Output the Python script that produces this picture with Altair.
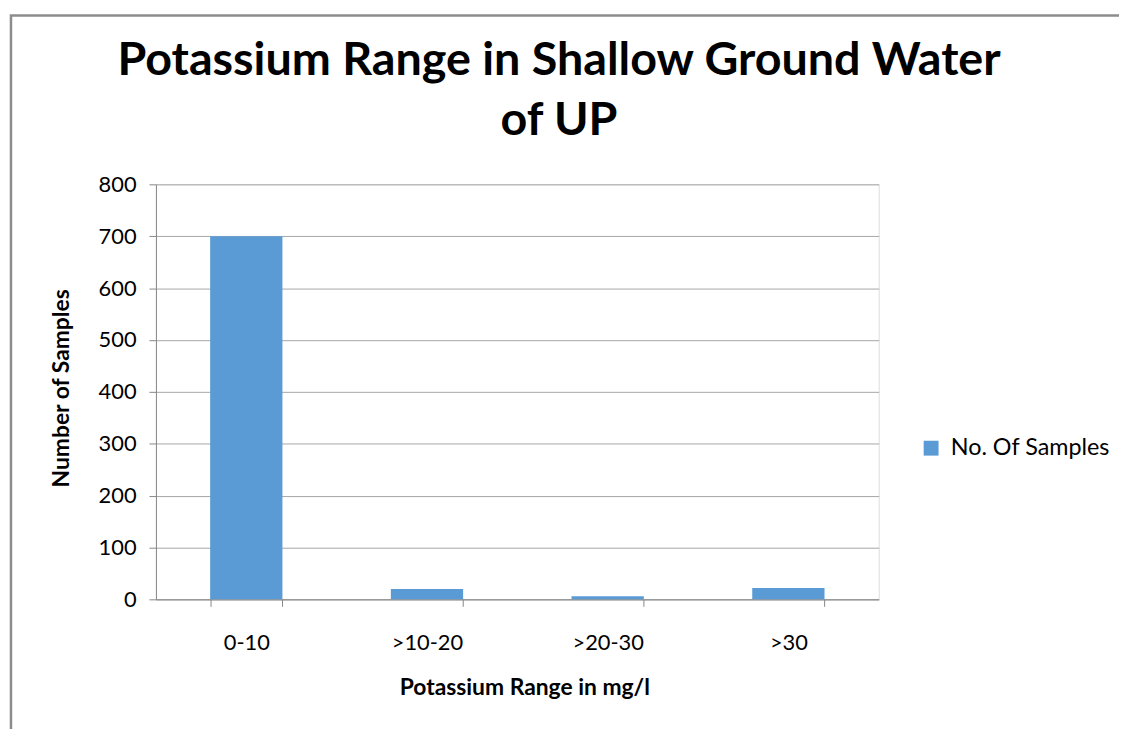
import altair as alt
import pandas as pd

categories = ["0-10", ">10-20", ">20-30", ">30"]
samples = [700, 20, 6, 22]
series_name = "No. Of Samples"
y_ticks = [0, 100, 200, 300, 400, 500, 600, 700, 800]

df = pd.DataFrame({"range": categories, "count": samples, "series": [series_name] * len(categories)})

FONT = "Lato"
W, H = 728, 418
PAD_L, PAD_T = 149, 175

bars = alt.Chart(df).mark_bar(color="#5B9BD5").encode(
    x=alt.X("range:N", sort=categories,
            scale=alt.Scale(paddingInner=0.6, paddingOuter=0.3),
            axis=alt.Axis(title="Potassium Range in mg/l", labelAngle=0, tickBand="extent",
                          grid=False, domainColor="#868686", tickColor="#868686",
                          tickSize=7, labelFont=FONT, labelFontSize=22, labelColor="#000000",
                          labelBaseline="alphabetic", labelPadding=44,
                          titleFont=FONT, titleFontSize=23, titleFontWeight="bold",
                          titleColor="#000000", titleBaseline="alphabetic",
                          titleX=371, titleY=96)),
    y=alt.Y("count:Q", scale=alt.Scale(domain=[0, 800], nice=False),
            axis=alt.Axis(title="Number of  Samples", values=y_ticks, grid=True,
                          gridColor="#A6A6A6", domainColor="#868686", tickColor="#868686",
                          tickSize=7, labelPadding=13, labelFont=FONT, labelFontSize=22,
                          labelColor="#000000", titleFont=FONT, titleFontSize=23,
                          titleFontWeight="bold", titleColor="#000000",
                          titleBaseline="middle", titleX=-95, titleY=205)),
    color=alt.Color("series:N", scale=alt.Scale(range=["#5B9BD5"]),
                    legend=alt.Legend(title=None, orient="none", legendX=769, legendY=254,
                                      symbolType="square", symbolSize=225, symbolStrokeWidth=0,
                                      labelFont=FONT, labelFontSize=23.5, labelColor="#000000",
                                      labelOffset=8, labelLimit=400)),
)

border = alt.Chart(pd.DataFrame({"k": [0]})).mark_rect(
    filled=False, stroke="#8C8C8C", strokeWidth=2.5
).encode(
    x=alt.value(-146), x2=alt.value(1127 - 157 + 30),
    y=alt.value(-170), y2=alt.value(738 - 183 + 30),
)

chart = alt.layer(border, bars).properties(
    width=W, height=H,
    title=alt.TitleParams(
        text=["Potassium Range in Shallow Ground Water", "of UP"],
        font=FONT, fontSize=47, fontWeight="bold", color="#000000",
        anchor="middle", frame="group", dx=42, baseline="bottom", offset=-179, lineHeight=61,
    ),
    padding={"left": PAD_L, "top": PAD_T, "right": 242, "bottom": 128},
    autosize=alt.AutoSizeParams(type="none"),
).configure_view(stroke=None).configure(background="#FFFFFF")

chart.save("out.html", embed_options={"renderer": "svg", "actions": False})
